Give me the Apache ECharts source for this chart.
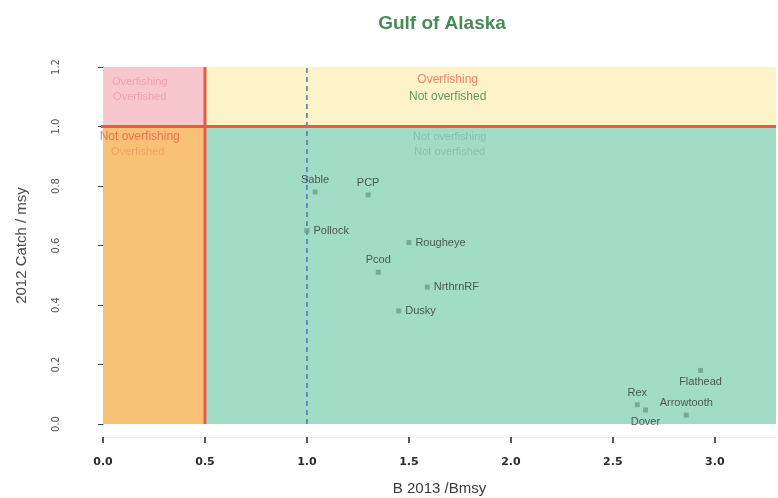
<!DOCTYPE html>
<html>
<head>
<meta charset="utf-8">
<script src="https://cdn.jsdelivr.net/npm/echarts@6/dist/echarts.min.js"></script>
<style>
  html, body { margin: 0; padding: 0; background: #ffffff; }
  #chart { width: 778px; height: 498px; }
</style>
</head>
<body>
<div id="chart"></div>
<script>
// Stock status, Gulf of Alaska: biomass ratio vs catch ratio
const stocks      = ['Sable', 'PCP', 'Pollock', 'Rougheye', 'Pcod', 'NrthrnRF', 'Dusky', 'Flathead', 'Rex', 'Arrowtooth', 'Dover'];
const bRatio      = [1.04, 1.30, 1.00, 1.50, 1.35, 1.59, 1.45, 2.93, 2.62, 2.86, 2.66];
const catchRatio  = [0.78, 0.77, 0.65, 0.61, 0.51, 0.46, 0.38, 0.18, 0.065, 0.03, 0.047];
const labelPos    = ['top', 'top', 'right', 'right', 'top', 'right', 'right', 'bottom', 'top', 'top', 'bottom'];

const X_MAX = 3.3;
const Y_MAX = 1.2;
const X_STEP = 0.5;
const Y_STEP = 0.2;
const B_LIMIT = 0.5;   // overfished threshold
const F_LIMIT = 1.0;   // overfishing threshold
const B_MSY = 1.0;

const narrow = "'Liberation Sans Narrow', 'Liberation Sans', Arial, sans-serif";

// quadrant captions: [x, y, text, color, size]
const captions = [
  [0.18, 1.150, 'Overfishing', '#ee9a9c', 11],
  [0.18, 1.100, 'Overfished', '#ee9a9c', 11],
  [1.69, 1.156, 'Overfishing', '#ec6a4e', 12],
  [1.69, 1.100, 'Not overfished', '#3f7f48', 12],
  [0.18, 0.965, 'Not overfishing', '#e2614a', 12],
  [0.17, 0.913, 'Overfished', '#ef9a62', 11],
  [1.70, 0.965, 'Not overfishing', '#84b8a8', 11],
  [1.70, 0.913, 'Not overfished', '#84b8a8', 11]
];

const chart = echarts.init(document.getElementById('chart'), null, { renderer: 'canvas' });

const pointData = stocks.map((name, i) => ({
  name: name,
  value: [bRatio[i], catchRatio[i]],
  label: { position: labelPos[i] }
}));

chart.setOption({
  animation: false,
  backgroundColor: '#ffffff',
  title: {
    text: 'Gulf of Alaska',
    left: 437, top: 9, textAlign: 'center',
    textStyle: { color: '#4a8a58', fontSize: 19, fontWeight: 'bold', fontFamily: narrow }
  },
  grid: [
    // plotting region
    { left: 103, top: 67, width: 673, height: 357, containLabel: false, outerBoundsMode: 'none' },
    // detached x axis strip below the plot
    { left: 103, top: 436, width: 673, height: 1, containLabel: false, outerBoundsMode: 'none' }
  ],
  xAxis: [
    {
      gridIndex: 0, type: 'value', min: 0, max: X_MAX, interval: X_STEP,
      axisLine: { show: false }, axisTick: { show: false }, axisLabel: { show: false },
      splitLine: { show: false }
    },
    {
      gridIndex: 1, type: 'value', min: 0, max: X_MAX, interval: X_STEP, position: 'bottom',
      name: 'B 2013 /Bmsy', nameLocation: 'middle', nameGap: 44,
      nameTextStyle: { color: '#3a3a3a', fontSize: 15, fontFamily: narrow },
      axisLine: { show: true, lineStyle: { color: '#ececec', width: 1 } },
      axisTick: { show: true, inside: false, length: 6, lineStyle: { color: '#222', width: 1.5 } },
      axisLabel: {
        showMaxLabel: false, margin: 20, color: '#2a2a2a', fontSize: 11, fontWeight: 'bold',
        fontFamily: "'DejaVu Sans', sans-serif",
        formatter: v => v.toFixed(1)
      },
      splitLine: { show: false }
    }
  ],
  yAxis: [
    {
      gridIndex: 0, type: 'value', min: 0, max: Y_MAX, interval: Y_STEP,
      offset: 28,
      name: '2012 Catch / msy', nameLocation: 'middle', nameGap: 46, nameRotate: 90,
      nameTextStyle: { color: '#4a4a4a', fontSize: 15, fontFamily: narrow },
      axisLine: { show: true, lineStyle: { color: '#444', width: 1 } },
      axisTick: { show: true, inside: false, length: 5, lineStyle: { color: '#444' } },
      axisLabel: {
        rotate: 90, margin: 14, color: '#555', fontSize: 10,
        fontFamily: "'DejaVu Sans', sans-serif",
        formatter: v => v.toFixed(1)
      },
      splitLine: { show: false }
    },
    {
      gridIndex: 1, type: 'value', min: 0, max: 1, show: false
    }
  ],
  series: [
    {
      // quadrant backgrounds
      type: 'scatter', data: [], silent: true, z: 1,
      markArea: {
        silent: true,
        label: { show: false },
        data: [
          [{ coord: [0, F_LIMIT], itemStyle: { color: '#f8c6cd' } }, { coord: [B_LIMIT, Y_MAX] }],
          [{ coord: [B_LIMIT, F_LIMIT], itemStyle: { color: '#fdf3c8' } }, { coord: [X_MAX, Y_MAX] }],
          [{ coord: [0, 0], itemStyle: { color: '#f9c176' } }, { coord: [B_LIMIT, F_LIMIT] }],
          [{ coord: [B_LIMIT, 0], itemStyle: { color: '#a0dcc6' } }, { coord: [X_MAX, F_LIMIT] }]
        ]
      }
    },
    {
      // B/Bmsy = 1 reference
      type: 'line', z: 3, silent: true, symbol: 'none',
      data: [[B_MSY, 0], [B_MSY, Y_MAX]],
      lineStyle: { color: '#5a78b8', width: 1.6, type: [5, 4] }
    },
    {
      // overfished limit
      type: 'line', z: 4, silent: true, symbol: 'none',
      data: [[B_LIMIT, 0], [B_LIMIT, Y_MAX]],
      lineStyle: { color: '#ea5a44', width: 3 }
    },
    {
      // overfishing limit
      type: 'line', z: 4, silent: true, symbol: 'none', clip: false,
      data: [[-0.015, F_LIMIT], [X_MAX, F_LIMIT]],
      lineStyle: { color: '#ea5a44', width: 3 }
    },
    {
      // quadrant captions
      type: 'scatter', z: 5, silent: true, symbolSize: 0,
      data: captions.map(c => ({
        value: [c[0], c[1]],
        label: { color: c[3], fontSize: c[4], formatter: c[2] }
      })),
      label: { show: true, position: 'inside', fontFamily: narrow }
    },
    {
      // stocks
      type: 'scatter', z: 6, silent: true,
      symbol: 'rect', symbolSize: 5,
      itemStyle: { color: '#6f9f87' },
      data: pointData,
      label: {
        show: true, formatter: '{b}', distance: 4,
        color: '#353535', fontSize: 11, fontFamily: narrow
      }
    }
  ]
});
</script>
</body>
</html>
